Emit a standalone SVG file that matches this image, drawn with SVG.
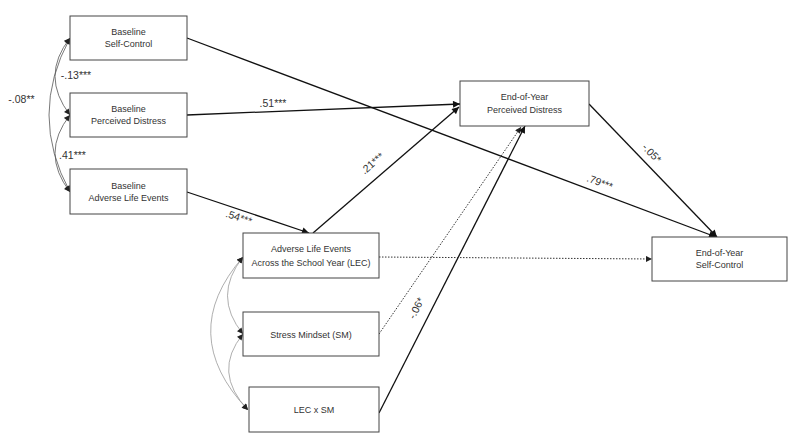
<svg xmlns="http://www.w3.org/2000/svg" width="800" height="446" viewBox="0 0 800 446">
<style>
.box{fill:#fff;stroke:#444;stroke-width:1}
.t{font-family:"Liberation Sans",Arial,sans-serif;font-size:9px;fill:#333;text-anchor:middle}
.lt{font-family:"Liberation Sans",Arial,sans-serif;font-size:10.5px;fill:#333;text-anchor:middle}
.lbl{font-family:"Liberation Sans",Arial,sans-serif;font-size:10.5px;fill:#333;text-anchor:middle;dominant-baseline:central}
.c{fill:none;stroke:#111;stroke-width:1.3}
.d{fill:none;stroke:#333;stroke-width:1;stroke-dasharray:1.5 1.5}
.cv{fill:none;stroke:#555;stroke-width:0.8}
.cvg{fill:none;stroke:#999;stroke-width:0.8}
</style>
<defs>
<marker id="ah" viewBox="0 0 10 10" refX="10" refY="5" markerWidth="8" markerHeight="7" orient="auto-start-reverse" markerUnits="userSpaceOnUse"><path d="M0,0 L10,5 L0,10 z" fill="#111"/></marker>
<marker id="ahs" viewBox="0 0 10 10" refX="10" refY="5" markerWidth="7" markerHeight="6" orient="auto-start-reverse" markerUnits="userSpaceOnUse"><path d="M0,0 L10,5 L0,10 z" fill="#222"/></marker>
</defs>
<rect width="800" height="446" fill="#fff"/>
<g id="connectors">
<path class="c" d="M187,38 L716,237" marker-end="url(#ah)"/>
<path class="c" d="M187,115 L460,104" marker-end="url(#ah)"/>
<path class="c" d="M187,192 L309,233" marker-end="url(#ah)"/>
<path class="c" d="M313,233 L459,107" marker-end="url(#ah)"/>
<path class="d" d="M379,334 L521,127" marker-end="url(#ahs)"/>
<path class="c" d="M379,413 L525,126" marker-end="url(#ah)"/>
<path class="d" d="M379,257 L652,259" marker-end="url(#ahs)"/>
<path class="c" d="M589,104 L717,237" marker-end="url(#ah)"/>
<path class="cv" d="M70,38 Q28,115 70,192" marker-start="url(#ahs)" marker-end="url(#ahs)"/>
<path class="cv" d="M70,38 Q40,76 70,115" marker-start="url(#ahs)" marker-end="url(#ahs)"/>
<path class="cv" d="M70,115 Q40,153 70,192" marker-start="url(#ahs)" marker-end="url(#ahs)"/>
<path class="cvg" d="M243,257 Q176,334 248,410" marker-start="url(#ahs)" marker-end="url(#ahs)"/>
<path class="cvg" d="M243,257 Q212,296 243,334" marker-start="url(#ahs)" marker-end="url(#ahs)"/>
<path class="cvg" d="M243,334 Q212,372 248,410" marker-start="url(#ahs)" marker-end="url(#ahs)"/>
<text class="lt" x="21.5" y="103">-.08**</text>
<text class="lt" x="76" y="79">-.13***</text>
<text class="lt" x="72.5" y="159">.41***</text>
<text class="lt" x="273" y="107">.51***</text>
<text class="lbl" transform="translate(239,217) rotate(18)">.54***</text>
<text class="lbl" transform="translate(372,163) rotate(-41)">.21***</text>
<text class="lbl" transform="translate(600,182) rotate(20.5)">.79***</text>
<text class="lbl" transform="translate(652,153) rotate(46)">-.05*</text>
<text class="lbl" transform="translate(416,308) rotate(-63)">-.06*</text>
</g>
<g id="baseline-self-control"><rect class="box" x="70" y="16" width="117" height="44"/><text class="t" x="128.5" y="35">Baseline</text><text class="t" x="128.5" y="47">Self-Control</text></g>
<g id="baseline-perceived-distress"><rect class="box" x="70" y="93" width="117" height="44"/><text class="t" x="128.5" y="112">Baseline</text><text class="t" x="128.5" y="124">Perceived Distress</text></g>
<g id="baseline-adverse-life-events"><rect class="box" x="70" y="169" width="117" height="45"/><text class="t" x="128.5" y="189">Baseline</text><text class="t" x="128.5" y="201">Adverse Life Events</text></g>
<g id="lec"><rect class="box" x="243" y="233" width="136" height="45"/><text class="t" x="311" y="252">Adverse Life Events</text><text class="t" x="311" y="266">Across the School Year (LEC)</text></g>
<g id="sm"><rect class="box" x="243" y="312" width="136" height="44"/><text class="t" x="311" y="338">Stress Mindset (SM)</text></g>
<g id="lecxsm"><rect class="box" x="249" y="387" width="130" height="45"/><text class="t" x="314" y="413">LEC x SM</text></g>
<g id="eoy-perceived-distress"><rect class="box" x="460" y="81" width="129" height="45"/><text class="t" x="524.5" y="100">End-of-Year</text><text class="t" x="524.5" y="113">Perceived Distress</text></g>
<g id="eoy-self-control"><rect class="box" x="652" y="237" width="135" height="44"/><text class="t" x="719.5" y="256">End-of-Year</text><text class="t" x="719.5" y="268">Self-Control</text></g>
</svg>
